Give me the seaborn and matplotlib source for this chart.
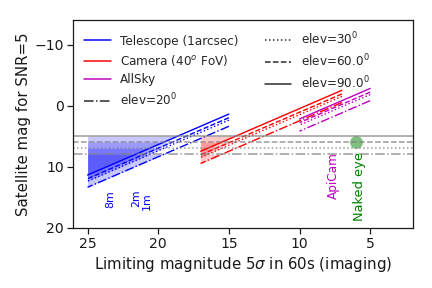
import seaborn as sns
import matplotlib.pyplot as plt
from matplotlib.lines import Line2D

# limiting magnitude ranges (x) for each instrument
tel_lim = [25, 15]
cam_lim = [17, 7]
sky_lim = [10, 5]

# satellite magnitude for SNR=5 at the two ends, per elevation
elevs = ["90", "60", "30", "20"]
tel_sat = {"90": [11.4, 1.4], "60": [12.0, 2.0], "30": [12.4, 2.4], "20": [13.4, 3.4]}
cam_sat = {"90": [7.5, -2.5], "60": [8.1, -1.9], "30": [8.5, -1.5], "20": [9.5, -0.5]}
sky_sat = {"90": [2.2, -2.8], "60": [2.8, -2.2], "30": [3.2, -1.8], "20": [4.2, -0.8]}

# naked-eye limit for each elevation
eye_lim = {"90": 5, "60": 6, "30": 7, "20": 8}
styles = {"90": "-", "60": "--", "30": ":", "20": "-."}

BLUE, RED, MAG, GREEN = "#0000ff", "#ff0000", "#bf00bf", "#008000"

sns.set_theme(style="ticks")
plt.rcParams['font.family'] = ['DejaVu Sans']

fig, ax = plt.subplots(figsize=(6, 4), dpi=72)
fig.subplots_adjust(left=0.17, right=0.955, top=0.93, bottom=0.21)

for lim, sat, col in [(tel_lim, tel_sat, BLUE), (cam_lim, cam_sat, RED), (sky_lim, sky_sat, MAG)]:
    for e in elevs:
        sns.lineplot(x=lim, y=sat[e], color=col, linestyle=styles[e], lw=1.4, ax=ax, legend=False)
        lo = [eye_lim[e]] * 2
        ax.fill_between(lim, lo, sat[e], where=[s > eye_lim[e] for s in sat[e]],
                        interpolate=True, color=col, alpha=0.22, lw=0)

for e in elevs:
    ax.axhline(eye_lim[e], color="gray", linestyle=styles[e], lw=1.5, alpha=0.8)

# naked eye point
sns.scatterplot(x=[6], y=[6], color=GREEN, s=180, alpha=0.5, ax=ax, legend=False)

ax.text(23.4, 15.4, "8m", color=BLUE, rotation=90, ha="center", va="center", fontsize=11)
ax.text(21.55, 15.2, "2m", color=BLUE, rotation=90, ha="center", va="center", fontsize=11)
ax.text(20.8, 15.7, "1m", color=BLUE, rotation=90, ha="center", va="center", fontsize=11)
ax.text(7.6, 7.6, "ApiCam", color=MAG, rotation=90, ha="center", va="top", fontsize=12)
ax.text(5.75, 7.6, "Naked eye", color=GREEN, rotation=90, ha="center", va="top", fontsize=13)

handles = [
    Line2D([], [], color=BLUE, label="Telescope (1arcsec)"),
    Line2D([], [], color=RED, label="Camera (40$^o$ FoV)"),
    Line2D([], [], color=MAG, label="AllSky"),
    Line2D([], [], color=".15", ls="-.", label="elev=20$^0$"),
    Line2D([], [], color=".15", ls=":", label="elev=30$^0$"),
    Line2D([], [], color=".15", ls="--", label="elev=60.0$^0$"),
    Line2D([], [], color=".15", ls="-", label="elev=90.0$^0$"),
]
ax.legend(handles=handles, ncol=2, frameon=False, loc="upper left", fontsize=12,
          labelspacing=0.45, columnspacing=2.2, handlelength=2.2)

ax.set_xlim(26, 2)
ax.set_ylim(20, -14)
ax.set_xticks([25, 20, 15, 10, 5])
ax.set_yticks([-10, 0, 10, 20])
ax.tick_params(labelsize=14, color="k", labelcolor="k")
for sp in ax.spines.values():
    sp.set_color("k")
ax.set_xlabel("Limiting magnitude 5$\\sigma$ in 60s (imaging)", fontsize=15, color="k")
ax.set_ylabel("Satellite mag for SNR=5", fontsize=15, color="k")

plt.savefig("out.png")
